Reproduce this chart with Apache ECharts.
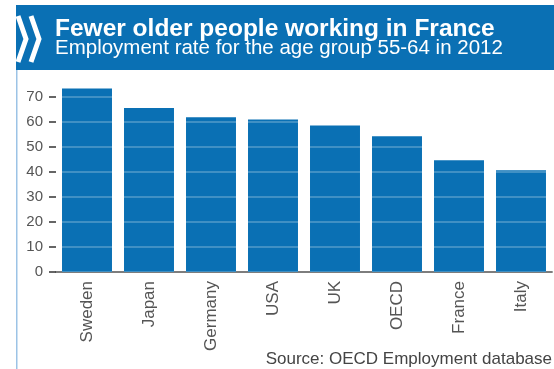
<!DOCTYPE html>
<html>
<head>
<meta charset="utf-8">
<script src="https://cdn.jsdelivr.net/npm/echarts@6/dist/echarts.min.js"></script>
<style>
html,body{margin:0;padding:0;background:#fff;}
#chart{width:554px;height:369px;}
</style>
</head>
<body>
<div id="chart"></div>
<script>
var titleText = 'Fewer older people working in France';
var subtitleText = 'Employment rate for the age group 55-64 in 2012';
var sourceText = 'Source: OECD Employment database';
var countries = ['Sweden', 'Japan', 'Germany', 'USA', 'UK', 'OECD', 'France', 'Italy'];
var employmentRate = [73.4, 65.6, 61.9, 61.0, 58.6, 54.3, 44.7, 40.7];
var yTicks = [0, 10, 20, 30, 40, 50, 60, 70];

var BLUE = '#0a70b4';
var chart = echarts.init(document.getElementById('chart'), null, {renderer: 'canvas'});
chart.setOption({
  animation: false,
  backgroundColor: '#fff',
  grid: {left: 56, right: 2, top: 82, bottom: 97, containLabel: false},
  graphic: [
    {type: 'rect', shape: {x: 16, y: 5, width: 538, height: 65}, style: {fill: BLUE}, z: 0},
    {type: 'rect', shape: {x: 16, y: 70, width: 1.5, height: 299}, style: {fill: '#9cc3e6'}, z: 0},
    {type: 'polyline', shape: {points: [[18, 16], [26, 39], [18, 62]]}, style: {stroke: '#fff', lineWidth: 5, fill: null}, z: 1},
    {type: 'polyline', shape: {points: [[31, 16], [39, 39], [31, 62]]}, style: {stroke: '#fff', lineWidth: 5, fill: null}, z: 1},
    {type: 'text', x: 55, y: 29, style: {text: titleText, fill: '#fff', font: 'bold 24.5px "Liberation Sans", Arial, sans-serif', textVerticalAlign: 'middle'}, z: 2},
    {type: 'text', x: 55, y: 48, style: {text: subtitleText, fill: '#fff', font: '20.5px "Liberation Sans", Arial, sans-serif', textVerticalAlign: 'middle'}, z: 2},
    {type: 'text', x: 552, y: 359, style: {text: sourceText, fill: '#444', font: '17px "Liberation Sans", Arial, sans-serif', textAlign: 'right', textVerticalAlign: 'middle'}, z: 2}
  ],
  xAxis: {
    type: 'category',
    data: countries,
    axisLine: {show: true, lineStyle: {color: '#222', width: 1.5}},
    axisTick: {show: false},
    axisLabel: {rotate: 90, margin: 9, color: '#555', fontSize: 17, fontFamily: '"Liberation Sans", Arial, sans-serif', interval: 0}
  },
  yAxis: {
    type: 'value',
    min: 0, max: 76, interval: 10,
    z: 5,
    axisLine: {show: false},
    axisTick: {show: true, length: 7, customValues: yTicks, lineStyle: {color: '#333', width: 1.5}},
    axisLabel: {margin: 13, color: '#555', fontSize: 15, fontFamily: '"Liberation Sans", Arial, sans-serif', customValues: yTicks,
      formatter: function (v) { return yTicks.indexOf(v) >= 0 ? String(v) : ''; }},
    splitLine: {show: true, lineStyle: {color: 'rgba(255,255,255,0.3)', width: 1.5}}
  },
  series: [{
    type: 'bar',
    data: employmentRate,
    barCategoryGap: '19.4%',
    itemStyle: {color: BLUE},
    z: 2
  }]
});
</script>
</body>
</html>
